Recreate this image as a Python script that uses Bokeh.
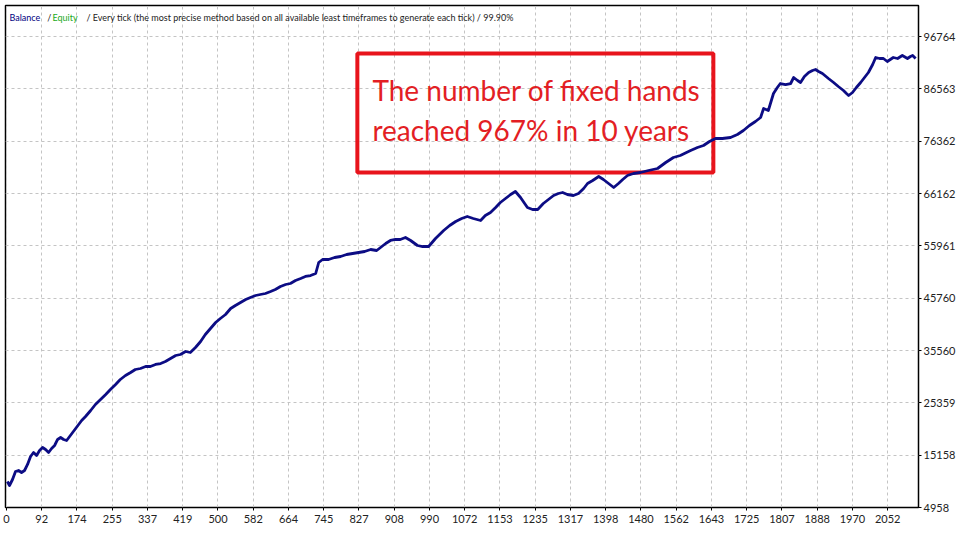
from bokeh.plotting import figure
from bokeh.models import (FixedTicker, Range1d, BoxAnnotation, Label,
                          ColumnDataSource, CustomJSTickFormatter, NumeralTickFormatter)
from bokeh.embed import file_html
from bokeh.resources import INLINE

# ---- data (deal number, balance) ----
deals = [2, 7, 14, 21, 28, 35, 42, 49, 56, 63, 70, 77, 84, 91, 98, 105, 112, 119, 126, 133,
         140, 147, 154, 161, 168, 175, 184, 196, 207, 219, 231, 242, 254, 265, 277, 289, 300,
         312, 324, 335, 347, 359, 370, 382, 394, 405, 417, 428, 440, 452, 463, 475, 487, 498,
         510, 522, 533, 545, 557, 568, 580, 591, 603, 615, 626, 638, 650, 661, 673, 685, 696,
         708, 720, 727, 736, 750, 764, 778, 792, 806, 820, 834, 848, 862, 871, 883, 894, 906,
         917, 929, 941, 957, 969, 983, 999, 1018, 1032, 1046, 1060, 1073, 1087, 1104, 1115,
         1127, 1139, 1150, 1162, 1174, 1185, 1197, 1213, 1225, 1237, 1250, 1262, 1274, 1285,
         1295, 1306, 1320, 1332, 1344, 1353, 1365, 1379, 1390, 1402, 1414, 1425, 1435, 1446,
         1460, 1476, 1495, 1516, 1535, 1553, 1569, 1593, 1609, 1623, 1637, 1651, 1667, 1686,
         1702, 1716, 1730, 1744, 1756, 1763, 1774, 1786, 1795, 1802, 1814, 1826, 1833, 1842,
         1849, 1858, 1868, 1877, 1884, 1891, 1900, 1914, 1926, 1937, 1949, 1956, 1961, 1970,
         1979, 1989, 1998, 2007, 2017, 2024, 2033, 2042, 2051, 2058, 2065, 2075, 2086, 2098,
         2105, 2110, 2117]
balance = [10026, 9246, 10416, 11975, 12170, 11780, 12170, 13340, 14899, 15679, 15094, 16068,
           16653, 16263, 15679, 16458, 17043, 18213, 18602, 18213, 18018, 18797, 19577, 20357,
           21136, 21916, 22696, 23865, 25035, 26009, 26984, 27959, 28933, 29908, 30687, 31272,
           31857, 32052, 32442, 32442, 32832, 33026, 33416, 34001, 34586, 34781, 35366, 35171,
           36145, 37315, 38679, 39849, 41018, 41798, 42578, 43747, 44332, 44917, 45501, 45891,
           46281, 46476, 46671, 47061, 47451, 48035, 48425, 48620, 49205, 49595, 49985, 50179,
           50569, 52713, 53298, 53298, 53688, 53883, 54273, 54468, 54663, 54858, 55247, 55052,
           55637, 56417, 57002, 57197, 57197, 57586, 57002, 56027, 55832, 55832, 57391, 58951,
           59925, 60705, 61290, 61680, 61290, 60900, 61875, 62459, 63434, 64409, 65188, 65968,
           66553, 65383, 63434, 63044, 63044, 64214, 64993, 65773, 66163, 66358, 65968, 65773,
           66163, 67137, 68112, 68697, 69477, 68892, 68112, 67332, 68112, 68892, 69671, 70061,
           70256, 70646, 71036, 72205, 73180, 73570, 74544, 75129, 75519, 76299, 76883, 76883,
           77078, 77663, 78443, 79417, 80197, 80977, 82731, 82341, 85655, 86824, 87604, 87409,
           87604, 88774, 88189, 87799, 88969, 89748, 90138, 90333, 89943, 89553, 88579, 87799,
           87019, 86240, 85655, 85265, 85850, 86824, 87799, 88774, 89748, 91308, 92672, 92477,
           92477, 91892, 92282, 92672, 92477, 93062, 92477, 92867, 93062, 92477]

x_tick_labels = ["0", "92", "174", "255", "337", "419", "500", "582", "664", "745", "827",
                 "908", "990", "1072", "1153", "1235", "1317", "1398", "1480", "1562", "1643",
                 "1725", "1807", "1888", "1970", "2052"]
y_ticks = [4958, 15158, 25359, 35560, 45760, 55961, 66162, 76362, 86563, 96764]

title_parts = ["Balance", "/", "Equity",
               "/ Every tick (the most precise method based on all available least timeframes to generate each tick) / 99.90%"]
note_lines = ["The number of fixed hands", "reached 967% in 10 years"]

FONT = "Lato"
step = 2052 / (len(x_tick_labels) - 1)

p = figure(width=960, height=540, output_backend="svg", toolbar_location=None,
           x_range=Range1d(-2.33, 2123.7), y_range=Range1d(4958, 102808),
           y_axis_location="right",
           min_border_left=5, min_border_top=5, min_border_right=42, min_border_bottom=33)
p.background_fill_color = "white"
p.border_fill_color = "white"
p.outline_line_color = "black"
p.outline_line_width = 1.5

# axes
p.xaxis.ticker = FixedTicker(ticks=[i * step for i in range(len(x_tick_labels))])
p.xaxis.formatter = CustomJSTickFormatter(args=dict(labels=x_tick_labels, step=step),
                                          code="const i = Math.round(tick / step); return labels[i] || '';")
p.yaxis.ticker = FixedTicker(ticks=y_ticks)
p.yaxis.formatter = NumeralTickFormatter(format="0")
for ax in (p.xaxis[0], p.yaxis[0]):
    ax.axis_line_color = None
    ax.major_tick_line_color = "black"
    ax.major_tick_in = 0
    ax.major_tick_out = 3
    ax.minor_tick_line_color = None
    ax.major_label_text_font = FONT
    ax.major_label_text_font_size = "11px"
    ax.major_label_text_color = "#222222"
p.xaxis.major_label_standoff = 4
p.yaxis.major_label_standoff = 2

p.grid.grid_line_color = "#c4c4c4"
p.grid.grid_line_dash = "3 3"
p.grid.grid_line_width = 1

# annotation box (under the line)
box = BoxAnnotation(left=817, right=1646, top=93452, bottom=70256,
                    fill_color=None, fill_alpha=0, line_color="#e8141c", line_alpha=1.0,
                    line_width=4, level="underlay")
p.add_layout(box)

src = ColumnDataSource(dict(x=deals, y=balance))
p.line("x", "y", source=src, line_color="#0c0c84", line_width=2.8, line_join="round")

# header text (Balance / Equity / ...)
title_x = [7, 95, 107, 186]
title_colors = ["#000080", "#222222", "#22aa22", "#222222"]
for tx, txt, col in zip(title_x, title_parts, title_colors):
    p.add_layout(Label(x=tx, y=100469, text=txt, text_color=col, text_font=FONT,
                       text_font_size="9px", text_baseline="middle", text_align="left"))

# red note text
for ty, txt in zip([86240, 78443], note_lines):
    p.add_layout(Label(x=852, y=ty, text=txt, text_color="#e31e24", text_font=FONT,
                       text_font_size="28px", text_baseline="alphabetic", text_align="left"))

open("out.html", "w").write(file_html(p, INLINE))
